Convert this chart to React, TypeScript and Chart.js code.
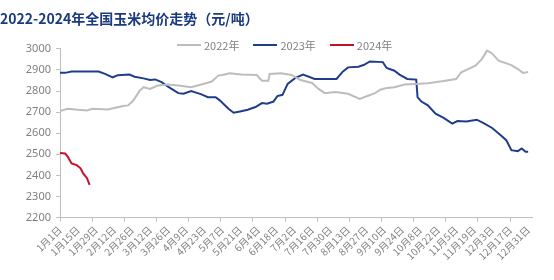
import React, { useEffect, useRef } from "react";
import { Chart, registerables } from "chart.js";

Chart.register(...registerables);

const titleText = "2022-2024年全国玉米均价走势（元/吨）";

const xLabels = [
  "1月1日", "1月15日", "1月29日", "2月12日", "2月26日", "3月12日", "3月26日",
  "4月9日", "4月23日", "5月7日", "5月21日", "6月4日", "6月18日", "7月2日",
  "7月16日", "7月30日", "8月13日", "8月27日", "9月10日", "9月24日", "10月8日",
  "10月22日", "11月5日", "11月19日", "12月3日", "12月17日", "12月31日",
];

const seriesNames = ["2022年", "2023年", "2024年"];
const seriesColors = ["#bdbdbd", "#1f3d8c", "#c0142a"];

const days2022 = [0, 6, 14, 21, 25, 37, 43, 49, 53, 57, 62, 65, 70, 76, 84, 92, 102, 110, 118, 123, 126, 132, 141, 153, 157, 162, 163, 172, 180, 187, 196, 201, 206, 214, 224, 233, 240, 245, 249, 253, 260, 268, 279, 286, 297, 308, 312, 323, 328, 332, 336, 341, 351, 356, 360, 364];
const values2022 = [2705, 2716, 2711, 2708, 2716, 2713, 2721, 2729, 2732, 2755, 2802, 2818, 2810, 2826, 2831, 2826, 2818, 2831, 2845, 2873, 2876, 2884, 2878, 2876, 2849, 2849, 2881, 2884, 2876, 2852, 2838, 2810, 2790, 2795, 2787, 2763, 2779, 2790, 2806, 2813, 2818, 2831, 2834, 2837, 2846, 2857, 2889, 2920, 2951, 2991, 2978, 2944, 2923, 2904, 2886, 2890];

const days2023 = [0, 4, 9, 30, 35, 41, 45, 54, 58, 65, 70, 74, 79, 84, 92, 96, 102, 110, 115, 121, 124, 131, 135, 140, 146, 152, 157, 161, 166, 169, 173, 177, 183, 189, 198, 215, 220, 224, 232, 236, 241, 251, 254, 260, 264, 270, 277, 278, 281, 286, 292, 298, 305, 309, 316, 324, 329, 336, 342, 347, 351, 356, 359, 362, 364];
const values2023 = [2886, 2886, 2892, 2892, 2881, 2865, 2875, 2878, 2868, 2860, 2852, 2855, 2842, 2821, 2790, 2787, 2800, 2784, 2771, 2771, 2757, 2716, 2697, 2703, 2711, 2724, 2743, 2740, 2750, 2776, 2782, 2834, 2862, 2878, 2857, 2857, 2893, 2912, 2915, 2923, 2940, 2937, 2909, 2896, 2878, 2857, 2854, 2771, 2750, 2732, 2693, 2674, 2646, 2658, 2656, 2664, 2649, 2625, 2594, 2567, 2520, 2515, 2528, 2512, 2512];

const days2024 = [0, 4, 6, 9, 13, 16, 18, 21, 23];
const values2024 = [2507, 2504, 2489, 2457, 2449, 2434, 2410, 2387, 2355];

const labelStep = 14;
const tickMarkStep = 25;
const xMax = 367;
const yMin = 2200;
const yMax = 3000;
const yStep = 100;

const axisGray = "#bfbfbf";
const textGray = "#808080";

function toPoints(days: number[], values: number[]) {
  return days.map((d, i) => ({ x: d, y: values[i] }));
}

export default function App() {
  const ref = useRef<HTMLCanvasElement | null>(null);

  useEffect(() => {
    document.body.style.margin = "0";
    const canvas = ref.current;
    if (!canvas) return;

    const tickValues: number[] = [];
    for (let v = 0; v <= xMax; v++) {
      if (v % labelStep === 0 || v % tickMarkStep === 0) tickValues.push(v);
    }

    const chart = new Chart(canvas, {
      type: "line",
      data: {
        datasets: [
          { label: seriesNames[0], data: toPoints(days2022, values2022), borderColor: seriesColors[0], borderWidth: 2 },
          { label: seriesNames[1], data: toPoints(days2023, values2023), borderColor: seriesColors[1], borderWidth: 2 },
          { label: seriesNames[2], data: toPoints(days2024, values2024), borderColor: seriesColors[2], borderWidth: 2 },
        ],
      },
      options: {
        animation: false,
        responsive: false,
        maintainAspectRatio: false,
        elements: { point: { radius: 0 }, line: { tension: 0 } },
        layout: { padding: { left: 0, right: 22, top: 0, bottom: 16 } },
        plugins: {
          legend: { display: false },
          tooltip: { enabled: false },
          title: {
            display: true,
            text: titleText,
            align: "start",
            color: "#1b3a80",
            font: { family: "'Noto Sans CJK SC'", size: 14, weight: "bold" },
            padding: { top: 10, bottom: 22 },
          },
        },
        scales: {
          x: {
            type: "linear",
            min: 0,
            max: xMax,
            afterBuildTicks: (scale: any) => {
              scale.ticks = tickValues.map((v) => ({ value: v }));
            },
            ticks: {
              autoSkip: false,
              maxRotation: 45,
              minRotation: 45,
              padding: 2,
              color: textGray,
              font: { family: "'Noto Sans CJK SC'", size: 10 },
              callback: (v: any) => (Number(v) % labelStep === 0 ? xLabels[Number(v) / labelStep] : ""),
            },
            grid: {
              drawOnChartArea: false,
              drawTicks: true,
              tickLength: 4,
              tickColor: (ctx: any) =>
                ctx.tick && ctx.tick.value % tickMarkStep === 0 ? axisGray : "rgba(0,0,0,0)",
            },
            border: { color: axisGray },
          },
          y: {
            min: yMin,
            max: yMax,
            afterFit: (scale: any) => {
              scale.width = 60;
            },
            ticks: {
              stepSize: yStep,
              color: textGray,
              padding: 5,
              font: { family: "'Noto Sans'", size: 11 },
              callback: (v: any) => String(v),
            },
            grid: { drawOnChartArea: false, drawTicks: true, tickLength: 4, tickColor: axisGray },
            border: { color: axisGray },
          },
        },
      },
    });
    return () => chart.destroy();
  }, []);

  return (
    <div style={{ position: "relative", width: 554, height: 280 }}>
      <canvas ref={ref} width={554} height={280} style={{ display: "block" }} />
      <div
        style={{
          position: "absolute",
          top: 37,
          left: 177,
          display: "flex",
          alignItems: "center",
          fontFamily: "'Noto Sans CJK SC'",
          fontSize: 11,
          color: textGray,
          lineHeight: "16px",
        }}
      >
        {seriesNames.map((n, i) => (
          <div key={n} style={{ display: "flex", alignItems: "center", marginRight: 14 }}>
            <span
              style={{
                display: "inline-block",
                width: 24,
                height: i === 0 ? 1.5 : 2,
                background: seriesColors[i],
                marginRight: 3,
              }}
            />
            <span>{n}</span>
          </div>
        ))}
      </div>
    </div>
  );
}
